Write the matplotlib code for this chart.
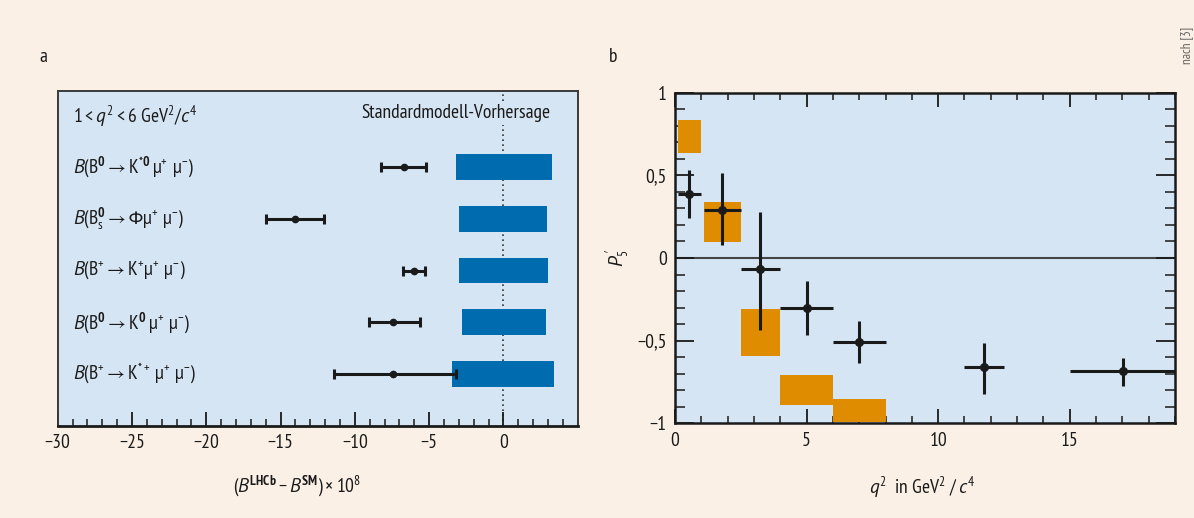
import matplotlib
matplotlib.use("Agg")
import matplotlib.pyplot as plt
from matplotlib import font_manager as fm
from matplotlib.ticker import MultipleLocator, FixedLocator, FuncFormatter

_ttf = fm.fontManager.ttflist
_names = {f.name for f in _ttf}
FONT = "DejaVu Sans"
for cand in ["PT Sans Narrow", "Fira Sans Condensed", "Roboto Condensed",
             "Asap Condensed", "Barlow Semi Condensed", "Archivo Narrow"]:
    if cand in _names:
        FONT = cand
        break


def _has_italic(name):
    return any(f.name == name and f.style in ("italic", "oblique") for f in _ttf)


IT_FONT = "DejaVu Sans"
for cand in [FONT, "PT Sans", "Fira Sans Condensed", "Asap Condensed",
             "Barlow Semi Condensed", "Roboto Condensed"]:
    if _has_italic(cand):
        IT_FONT = cand
        break

plt.rcParams['font.family'] = [FONT, 'DejaVu Sans']
plt.rcParams['mathtext.fontset'] = 'custom'
plt.rcParams['mathtext.rm'] = FONT
plt.rcParams['mathtext.it'] = IT_FONT + ':italic'
plt.rcParams['mathtext.bf'] = FONT + ':bold'
plt.rcParams['mathtext.sf'] = FONT
plt.rcParams['mathtext.fallback'] = 'stixsans'

# ---------------- data: panel a ----------------
decays = [
    r"$\mathit{B}(\mathrm{B}^{\mathbf{0}} \rightarrow \mathrm{K}^{*\mathbf{0}}\,\mathrm{µ}^{+}\ \mathrm{µ}^{-})$",
    r"$\mathit{B}(\mathrm{B}^{\mathbf{0}}_{\mathrm{s}} \rightarrow \mathrm{Φµ}^{+}\ \mathrm{µ}^{-})$",
    r"$\mathit{B}(\mathrm{B}^{+} \rightarrow \mathrm{K}^{+}\mathrm{µ}^{+}\ \mathrm{µ}^{-})$",
    r"$\mathit{B}(\mathrm{B}^{\mathbf{0}} \rightarrow \mathrm{K}^{\mathbf{0}}\,\mathrm{µ}^{+}\ \mathrm{µ}^{-})$",
    r"$\mathit{B}(\mathrm{B}^{+} \rightarrow \mathrm{K}^{*+}\,\mathrm{µ}^{+}\ \mathrm{µ}^{-})$",
]
row_pos = [5, 4, 3, 2, 1]
sm_lo = [-3.18, -2.98, -2.98, -2.78, -3.45]
sm_hi = [3.28, 2.94, 3.01, 2.87, 3.41]
lhcb_val = [-6.70, -14.04, -6.03, -7.42, -7.44]
lhcb_lo = [-8.21, -15.95, -6.73, -9.06, -11.41]
lhcb_hi = [-5.20, -12.09, -5.29, -5.61, -3.18]
a_xticks = [-30, -25, -20, -15, -10, -5, 0]

# ---------------- data: panel b ----------------
sm_x0 = [0.1, 1.1, 2.5, 4.0, 6.0]
sm_x1 = [1.0, 2.5, 4.0, 6.0, 8.0]
sm_y0 = [0.635, 0.095, -0.593, -0.889, -0.994]
sm_y1 = [0.833, 0.337, -0.310, -0.710, -0.855]

bin_lo = [0.1, 1.1, 2.5, 4.0, 6.0, 11.0, 15.0]
bin_hi = [0.98, 2.5, 4.0, 6.0, 8.0, 12.5, 19.0]
q2_c = [0.52, 1.79, 3.23, 5.0, 7.0, 11.76, 17.03]
p5_val = [0.387, 0.289, -0.068, -0.302, -0.506, -0.657, -0.685]
p5_up = [0.530, 0.512, 0.276, -0.141, -0.383, -0.512, -0.605]
p5_dn = [0.239, 0.081, -0.437, -0.464, -0.633, -0.820, -0.772]
b_xticks = [0, 5, 10, 15]

BG = "#FAF0E5"
AXBG = "#D5E5F4"
BLUE = "#006CB0"
ORANGE = "#E08C00"
DARK = "#1A1A1A"
FS = 14

W, H = 1194, 518
fig = plt.figure(figsize=(W / 100, H / 100), dpi=100, facecolor=BG)

def ax_rect(x0, y0, x1, y1):
    return [x0 / W, 1 - y1 / H, (x1 - x0) / W, (y1 - y0) / H]

# ================= panel a =================
axa = fig.add_axes(ax_rect(57.7, 91, 577.7, 425.7))
axa.set_facecolor(AXBG)
axa.set_xlim(-30, 5)
axa.set_ylim(0, 6.47)

axa.axvline(0, color="#333333", lw=1.2, ls=(0, (1, 2)), zorder=1)
widths = [h - l for l, h in zip(sm_lo, sm_hi)]
axa.barh(row_pos, widths, left=sm_lo, height=0.5, color=BLUE, zorder=2)
err_l = [v - l for v, l in zip(lhcb_val, lhcb_lo)]
err_h = [h - v for v, h in zip(lhcb_val, lhcb_hi)]
axa.errorbar(lhcb_val, row_pos, xerr=[err_l, err_h], fmt='o', color=DARK,
             ms=4.5, elinewidth=2.2, capsize=3.5, capthick=2.2, zorder=3)

for lab, y in zip(decays, row_pos):
    axa.text(-28.94, y, lab, fontsize=FS, va='center', ha='left', color=DARK)
axa.text(-28.94, 5.98, r"$1 < \mathit{q}^{2} < 6\ \mathrm{GeV}^{2}/\mathit{c}^{4}$",
         fontsize=FS, va='center', ha='left', color=DARK)
axa.text(3.19, 6.04, "Standardmodell-Vorhersage", fontsize=FS, va='center',
         ha='right', color=DARK, zorder=4,
         bbox=dict(facecolor=AXBG, edgecolor='none', pad=2))

axa.xaxis.set_major_locator(FixedLocator(a_xticks))
axa.xaxis.set_minor_locator(MultipleLocator(1))
axa.set_yticks([])
axa.tick_params(axis='x', which='major', direction='in', length=10, width=1.3,
                labelsize=FS, pad=6, color=DARK, labelcolor=DARK)
axa.tick_params(axis='x', which='minor', direction='in', length=5, width=1.1, color=DARK)
for s in axa.spines.values():
    s.set_color("#3a3a3a")
    s.set_linewidth(1.4)
axa.spines['bottom'].set_color(DARK)
axa.spines['bottom'].set_linewidth(2)

fig.text(297 / W, 1 - 486 / H,
         r"$(\mathit{B}^{\mathbf{LHCb}} - \mathit{B}^{\mathbf{SM}}) \times 10^{8}$",
         fontsize=FS, ha='center', va='center', color=DARK)

# ================= panel b =================
axb = fig.add_axes(ax_rect(675, 92.7, 1175, 423.3))
axb.set_facecolor(AXBG)
axb.set_xlim(0, 19)
axb.set_ylim(-1, 1)

axb.axhline(0, color="#444444", lw=1.5, zorder=1)
bx = [(a + b) / 2 for a, b in zip(sm_x0, sm_x1)]
bw = [b - a for a, b in zip(sm_x0, sm_x1)]
bh = [b - a for a, b in zip(sm_y0, sm_y1)]
axb.bar(bx, bh, width=bw, bottom=sm_y0, color=ORANGE, zorder=2)
xe_l = [c - l for c, l in zip(q2_c, bin_lo)]
xe_h = [h - c for c, h in zip(q2_c, bin_hi)]
ye_l = [v - d for v, d in zip(p5_val, p5_dn)]
ye_h = [u - v for v, u in zip(p5_val, p5_up)]
axb.errorbar(q2_c, p5_val, xerr=[xe_l, xe_h], yerr=[ye_l, ye_h], fmt='o',
             color=DARK, ms=5.5, elinewidth=2.2, capsize=0, zorder=3)

axb.xaxis.set_major_locator(FixedLocator(b_xticks))
axb.xaxis.set_minor_locator(MultipleLocator(1))
axb.yaxis.set_major_locator(MultipleLocator(0.5))
axb.yaxis.set_minor_locator(MultipleLocator(0.1))
axb.yaxis.set_major_formatter(FuncFormatter(
    lambda v, p: ("%g" % v).replace('.', ',').replace('-', '\u2212')))
axb.tick_params(axis='both', which='both', direction='in', top=True, right=True,
                color=DARK, labelcolor=DARK, labelsize=FS)
axb.tick_params(axis='x', which='major', length=10, width=1.3, pad=6)
axb.tick_params(axis='x', which='minor', length=5, width=1.1)
axb.tick_params(axis='y', which='major', length=14, width=1.3, pad=6)
axb.tick_params(axis='y', which='minor', length=7, width=1.1)
for s in axb.spines.values():
    s.set_color(DARK)
    s.set_linewidth(1.8)

axb.set_ylabel(r"$\mathit{P}^{\,\prime}_{5}$", fontsize=FS, color=DARK, labelpad=4)
fig.text(922 / W, 1 - 487 / H, r"$\mathit{q}^{2}$  in GeV$^{2}$ / $\mathit{c}^{4}$",
         fontsize=FS, ha='center', va='center', color=DARK)

# panel letters and source
fig.text(43 / W, 1 - 57 / H, "a", fontsize=FS, ha='center', va='center', color=DARK)
fig.text(613 / W, 1 - 57 / H, "b", fontsize=FS, ha='center', va='center', color=DARK)
fig.text(1187 / W, 1 - 45 / H, "nach [3]", fontsize=9.5, rotation=90, ha='center',
         va='center', color="#666666")

fig.savefig("out.png", dpi=100, facecolor=BG)
